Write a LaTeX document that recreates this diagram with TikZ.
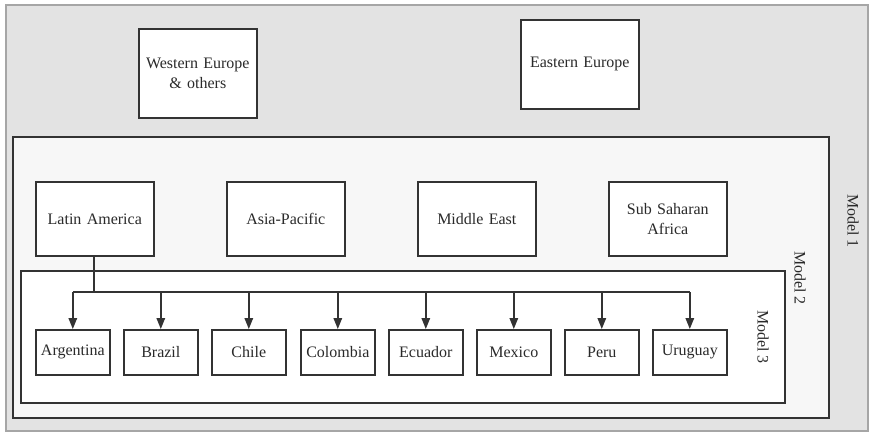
\documentclass[tikz,border=0pt]{standalone}
\usepackage{fontspec}
\setmainfont{Liberation Serif}
\usetikzlibrary{arrows.meta}
\definecolor{txt}{HTML}{2A2A2A}
\definecolor{edge}{HTML}{333333}
\definecolor{bgone}{HTML}{E3E3E3}
\definecolor{bgtwo}{HTML}{F7F7F7}
\begin{document}
\begin{tikzpicture}[x=1pt,y=-1pt,
  every node/.style={font=\fontsize{16}{19.5}\selectfont,text=txt},
  region/.style={draw=edge,line width=1.6pt,fill=white,minimum width=118pt,minimum height=89pt,inner sep=0pt,align=center,anchor=north west,text width=116pt},
  sub/.style={draw=edge,line width=1.6pt,fill=white,minimum width=118pt,minimum height=74pt,inner sep=0pt,align=center,anchor=north west,text width=116pt},
  country/.style={draw=edge,line width=1.6pt,fill=white,minimum width=74pt,minimum height=45pt,inner sep=0pt,anchor=north west},
  modlabel/.style={rotate=-90,anchor=center},
  link/.style={draw=edge,line width=1.5pt},
  arr/.style={link,-{Triangle[length=11pt,width=8.5pt]}}]
\useasboundingbox (0,0) rectangle (869,433);
% Model 1 frame
\draw[draw=gray!70,line width=1.4pt,fill=bgone] (6,5) rectangle (868,431);
\node[region] (we) at (138,28) {Western Europe\\\& others};
\node[region] (ee) at (520,19) {Eastern Europe};
% Model 2 frame
\draw[draw=edge,line width=1.6pt,fill=bgtwo] (13,137) rectangle (829,418);
\node[sub] (la) at (35,181) {Latin America};
\node[sub] (ap) at (226,181) {Asia-Pacific};
\node[sub] (me) at (417,181) {Middle East};
\node[sub] (ss) at (608,181) {Sub Saharan\\Africa};
% Model 3 frame
\draw[draw=edge,line width=1.6pt,fill=white] (21,271) rectangle (785,403);
\node[country] (ar) at (35,329) {Argentina};
\node[country] (br) at (123,329) {Brazil};
\node[country] (cl) at (211,329) {Chile};
\node[country] (co) at (300,329) {Colombia};
\node[country] (ec) at (388,329) {Ecuador};
\node[country] (mx) at (476,329) {Mexico};
\node[country] (pe) at (564,329) {Peru};
\node[country] (ur) at (652,329) {Uruguay};
% labels
\node[modlabel] (m1) at (853,221) {Model 1};
\node[modlabel] (m2) at (800,278) {Model 2};
\node[modlabel] (m3) at (763,337) {Model 3};
% connectors
\coordinate (j) at (94,292);
\draw[link] (la.south -| j) -- (j);
\draw[link] (ar.north |- j) -- (ur.north |- j);
\foreach \c in {ar,br,cl,co,ec,mx,pe,ur}{
  \draw[arr] (\c.north |- j) -- (\c.north);
}
\end{tikzpicture}
\end{document}
